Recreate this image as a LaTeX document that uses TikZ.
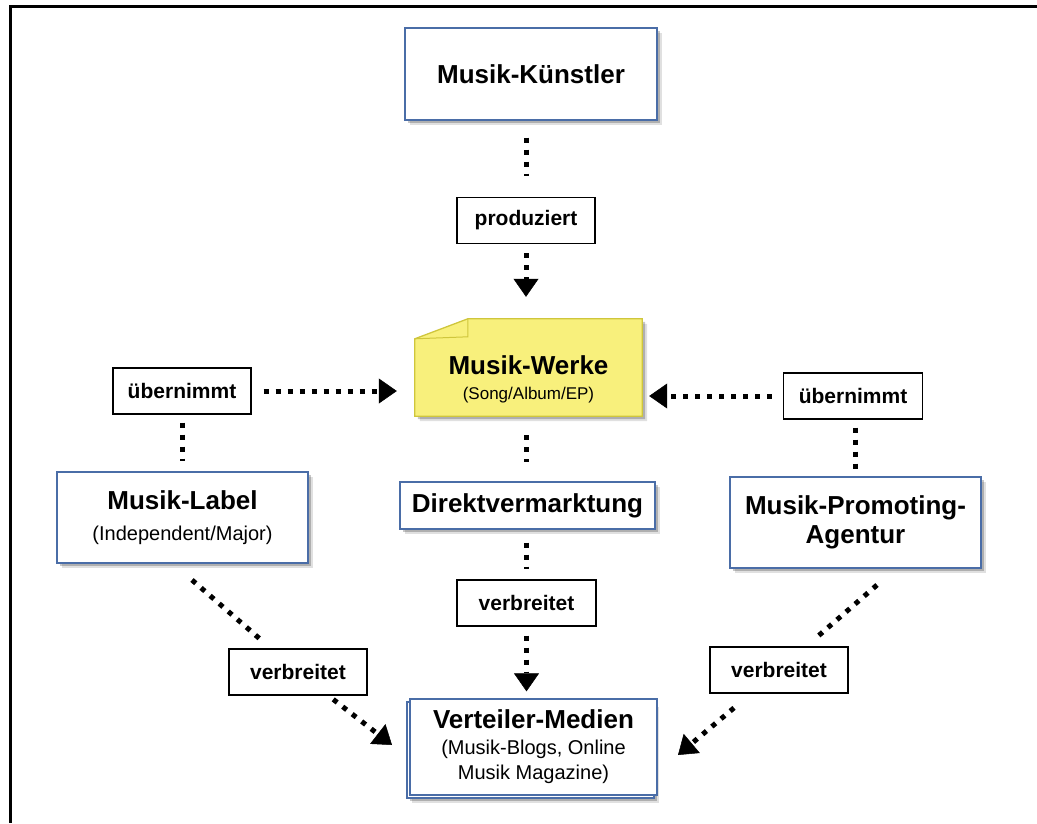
\documentclass[tikz,border=0pt]{standalone}
\usepackage{fontspec}
\setmainfont{Liberation Sans}
\usetikzlibrary{arrows.meta,shadows}
\definecolor{boxblue}{HTML}{4A6DA7}
\definecolor{noteyellow}{HTML}{F8F07C}
\definecolor{noteborder}{HTML}{CFC63C}
\newcommand\mysubtext[1]{{\fontsize{20}{24}\selectfont\mdseries #1}}
\newcommand\mysmalltext[1]{{\fontsize{17}{20}\selectfont\mdseries #1}}
\tikzset{
  softshadow/.style={drop shadow={shadow xshift=3pt, shadow yshift=-3pt, fill=black, opacity=.22},
                     drop shadow={shadow xshift=5pt, shadow yshift=-5pt, fill=black, opacity=.12}},
  mainbox/.style={draw=boxblue, line width=1.3pt, fill=white, softshadow, align=center, inner sep=0pt},
  plainbox/.style={draw=boxblue, line width=1.3pt, fill=white, align=center, inner sep=0pt},
  tagbox/.style={draw=black, line width=1.4pt, fill=white, inner sep=0pt,
                 minimum width=138pt, minimum height=46pt, font=\fontsize{21}{25}\selectfont\bfseries},
  dots/.style={line width=5pt, dash pattern=on 5pt off 7pt},
  dotarrow/.style={dots, -{Triangle[width=25pt,length=18pt,line width=0.5pt]}}
}
\begin{document}
\begin{tikzpicture}[x=1pt,y=-1pt]
\useasboundingbox (0,0) rectangle (1037,823);
% outer frame
\draw[line width=3pt] (1037,6) -- (10,6) -- (10,823);

% boxes
\node[mainbox, minimum width=252pt, minimum height=92pt, font=\fontsize{26}{31}\selectfont\bfseries]
  (kuenstler) at (531,74) {Musik-Künstler};
\node[tagbox] (prod) at (526,220.5) {produziert};

\node[inner sep=0pt, minimum width=227pt, minimum height=97pt] (werke) at (528.5,367.5) {};
\path[fill=noteyellow, draw=noteborder, line width=1.3pt, softshadow]
  (werke.south west) -- (werke.south east) -- (werke.north east)
  -- ([xshift=53pt]werke.north west) -- ([yshift=-20pt]werke.north west) -- cycle;
\draw[noteborder, line width=1pt]
  ([xshift=53pt]werke.north west) -- ([xshift=53pt,yshift=-18pt]werke.north west)
  -- ([yshift=-20pt]werke.north west);
\node[align=center, inner sep=0pt, font=\fontsize{26}{25}\selectfont\bfseries]
  (werketext) at (528.5,379) {Musik-Werke\\\mysmalltext{(Song/Album/EP)}};

\node[tagbox] (ueb1) at (182,391) {übernimmt};
\node[tagbox, minimum width=139pt] (ueb2) at (853,396) {übernimmt};

\node[mainbox, minimum width=251pt, minimum height=91pt, font=\fontsize{26}{31}\selectfont\bfseries]
  (label) at (182.5,517.5) {Musik-Label\\\mysubtext{(Independent/Major)}};
\node[mainbox, minimum width=251pt, minimum height=91pt, font=\fontsize{26}{29}\selectfont\bfseries]
  (agentur) at (855.5,522.5) {Musik-Promoting-\\Agentur};
\node[mainbox, minimum width=255pt, minimum height=47pt, font=\fontsize{26}{31}\selectfont\bfseries]
  (direkt) at (527.5,505.5) {Direktvermarktung};

\node[tagbox] (vb1) at (298,672) {verbreitet};
\node[tagbox, minimum width=139pt] (vb2) at (526.5,603) {verbreitet};
\node[tagbox] (vb3) at (779,670) {verbreitet};

% Verteiler-Medien (stacked documents)
\draw[draw=boxblue, line width=1.3pt, fill=white, softshadow] (407,702) rectangle (654,798);
\node[plainbox, minimum width=247pt, minimum height=96pt, font=\fontsize{26}{25}\selectfont\bfseries]
  (medien) at (533.5,747) {Verteiler-Medien\\[1pt]\mysubtext{(Musik-Blogs, Online}\\\mysubtext{Musik Magazine)}};

% free ends of diagonal connectors
\coordinate (d1s) at (192,580);
\coordinate (d1e) at (392,745);
\coordinate (d3s) at (877,585);
\coordinate (d3e) at (678,755);

% connectors
\draw[dots, shorten <=17pt, shorten >=21pt] (kuenstler.south -| prod) -- (prod.north);
\draw[dotarrow, shorten <=9pt, shorten >=22pt] (prod.south) -- (prod.south |- werke.north);

\draw[dotarrow, shorten <=12pt, shorten >=18pt] (ueb1.east) -- (ueb1.east -| werke.west);
\draw[dotarrow, shorten <=11pt, shorten >=7pt] (ueb2.west) -- (ueb2.west -| werke.east);

\draw[dots, shorten <=8pt, shorten >=10pt] (ueb1.south) -- (ueb1.south |- label.north);
\draw[dots, shorten <=8pt, shorten >=7pt] (ueb2.south -| agentur) -- (agentur.north);

\draw[dots, shorten <=19pt, shorten >=19pt] (werke.south -| vb2) -- (direkt.north -| vb2);
\draw[dots, shorten <=13pt, shorten >=10pt] (direkt.south -| vb2) -- (vb2.north);
\draw[dotarrow, shorten <=9pt, shorten >=7pt] (vb2.south) -- (vb2.south |- medien.north);

\draw[dots, shorten >=9pt] (d1s) -- (vb1);
\draw[dotarrow, shorten <=6pt] (vb1) -- (d1e);
\draw[dots, shorten >=10pt] (d3s) -- (vb3);
\draw[dotarrow, shorten <=22pt] (vb3) -- (d3e);
\end{tikzpicture}
\end{document}
